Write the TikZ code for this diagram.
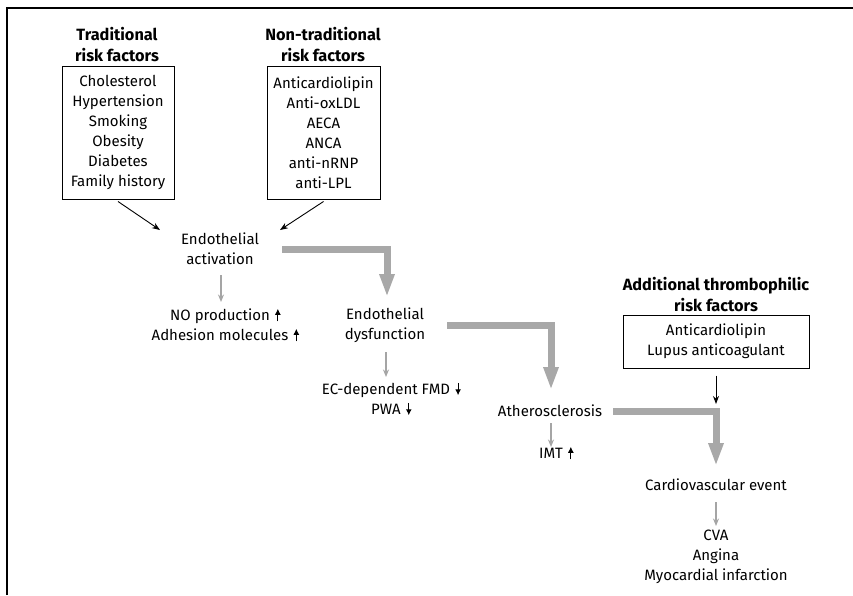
\documentclass[tikz,border=0pt]{standalone}
\usepackage{fontspec}
\setmainfont{Fira Sans}
\usetikzlibrary{arrows.meta,calc}
\definecolor{thickgray}{RGB}{168,168,168}
\definecolor{thingray}{RGB}{165,165,165}
\newcommand{\myup}{\rlap{\hspace{5pt}\tikz[baseline=0pt]\draw[line width=1.1pt,-{Latex[length=6pt,width=6pt]}] (0pt,-1pt)--(0pt,11.5pt);}}
\newcommand{\mydown}{\rlap{\hspace{5pt}\tikz[baseline=0pt]\draw[line width=1.1pt,-{Latex[length=6pt,width=6pt]}] (0pt,11.5pt)--(0pt,-1pt);}}
\begin{document}
\begin{tikzpicture}[x=1pt,y=-1pt,
  txt/.style={align=center,font=\fontsize{15}{20}\selectfont,inner sep=0pt},
  ttl/.style={align=center,font=\fontsize{16.3}{21}\selectfont\bfseries,inner sep=0pt},
  rbox/.style={draw,line width=1pt,align=center,font=\fontsize{15}{20}\selectfont,inner sep=0pt},
  blk/.style={line width=0.9pt,-{Stealth[length=8pt,width=6pt]}},
  gry/.style={draw=thingray,line width=1.3pt,-{Stealth[length=7.5pt,width=6pt]}},
  big/.style={draw=thickgray,line width=7pt,-{Triangle[length=23pt,width=14pt]}}]
\useasboundingbox (0,0) rectangle (853,595);
\draw[line width=1.5pt] (7,595) -- (7,8) -- (853,8);

\node[ttl] (ttitle) at (117,44.5) {Traditional\\risk factors};
\node[rbox,minimum width=112pt,minimum height=133pt] (tbox) at (118,132.5)
  {Cholesterol\\Hypertension\\Smoking\\Obesity\\Diabetes\\Family history};
\node[ttl] (ntitle) at (323,44.5) {Non-traditional\\risk factors};
\node[rbox,minimum width=113pt,minimum height=133pt] (nbox) at (323.5,132.5)
  {Anticardiolipin\\Anti-oxLDL\\AECA\\ANCA\\anti-nRNP\\anti-LPL};

\node[txt] (endact) at (220,249) {Endothelial\\activation};
\node[txt] (noprod) at (220,325) {NO production\myup\\Adhesion molecules\myup};
\node[txt] (enddys) at (385,325) {Endothelial\\dysfunction};
\node[txt] (ecfmd) at (386,399) {EC-dependent FMD\mydown\\PWA\mydown};
\node[txt] (ath) at (550,411) {Atherosclerosis};
\node[txt] (imt) at (551,453) {IMT\myup};

\node[ttl] (atitle) at (716,295) {Additional thrombophilic\\risk factors};
\node[rbox,minimum width=186pt,minimum height=53pt] (abox) at (716,341.5)
  {Anticardiolipin\\Lupus anticoagulant};
\node[txt] (cv) at (716,485) {Cardiovascular event};
\node[txt] (outc) at (716,557) {CVA\\Angina\\Myocardial infarction};

\coordinate (j3) at (cv.center |- ath.center);

\draw[blk] ($(tbox.south)+(0,2)$) -- ($(endact.center)+(-60,-19)$);
\draw[blk] ($(nbox.south)+(0,2)$) -- ($(endact.center)+(60,-19)$);
\draw[blk] ($(abox.south)+(0,7)$) -- ($(j3)+(0,-7)$);

\draw[big] ($(endact.center)+(62,0)$) -| ($(enddys.center)+(2,-28)$);
\draw[big] ($(enddys.center)+(62,0)$) -| ($(ath.center)+(1,-21)$);
\draw[big] ($(ath.center)+(63,0)$) -- (j3) -- ($(cv.center)+(0,-19)$);

\draw[gry] ($(endact.center)+(1,26)$) -- ($(noprod.center)+(1,-23)$);
\draw[gry] ($(enddys.center)+(1,27)$) -- ($(ecfmd.center)+(0,-22)$);
\draw[gry] ($(ath.center)+(1,12)$) -- ($(imt.center)+(0,-6)$);
\draw[gry] ($(cv.center)+(0,17)$) -- ($(outc.center)+(0,-31)$);
\end{tikzpicture}
\end{document}
